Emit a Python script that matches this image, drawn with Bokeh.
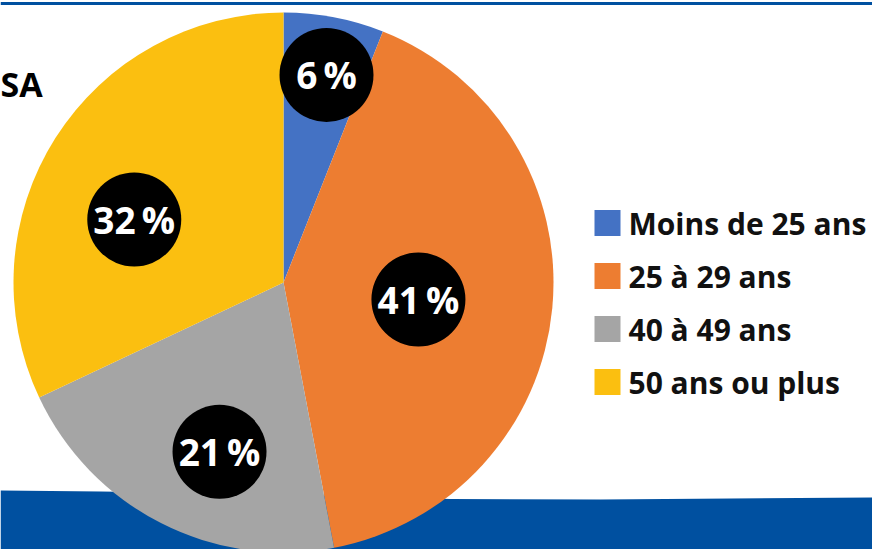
import math
from bokeh.plotting import figure
from bokeh.models import ColumnDataSource, Range1d
from bokeh.core.properties import value
from bokeh.embed import file_html
from bokeh.resources import INLINE

# ---- data ----
categories = ["Moins de 25 ans", "25 à 29 ans", "40 à 49 ans", "50 ans ou plus"]
shares = [6, 41, 21, 32]
label_texts = ["6\u2009%", "41\u2009%", "21\u2009%", "32\u2009%"]
colors = ["#4472C4", "#ED7D31", "#A5A5A5", "#FBBF10"]

# ---- layout (pixels, y measured from top) ----
W, H = 872, 549
CX, CY, R = 283, 282, 270
label_r = [212, 136, 181, 162]          # distance of label bubbles from centre
label_shift = [0.9, 1.8, -6.3, -9.5]    # angular offset (deg) of bubbles from slice middle
BUBBLE_R = 47
BLUE = "#0050A0"
FONT = "Open Sans"


def Y(py):
    return H - py


p = figure(width=W, height=H, x_range=Range1d(0, W), y_range=Range1d(0, H),
           output_backend="svg", toolbar_location=None, min_border=0)
p.axis.visible = False
p.grid.visible = False
p.outline_line_color = None
p.background_fill_color = "white"
p.border_fill_color = "white"

# decorative band at bottom and line at top
wave_x = [0, 100, 200, 300, 450, 600, 872, 872, 0]
wave_y = [Y(v) for v in [490, 491, 492.5, 494, 498.5, 499, 497, 560, 560]]
p.patch(wave_x, wave_y, fill_color=BLUE, line_color=None)
p.quad(left=0, right=W, bottom=Y(4.5), top=Y(1.5), fill_color=BLUE, line_color=None)

# title fragment
p.text(x=[0], y=[Y(83)], text=["SA"], text_font=value(FONT), text_font_style="bold",
       text_font_size="34px", text_align="left", text_baseline="middle", text_color="black")

# pie
total = float(sum(shares))
starts, ends, mids = [], [], []
acc = 0.0
for s in shares:
    a0 = math.pi / 2 - 2 * math.pi * acc / total
    acc += s
    a1 = math.pi / 2 - 2 * math.pi * acc / total
    starts.append(a0)
    ends.append(a1)
    mids.append((a0 + a1) / 2)

src = ColumnDataSource(dict(start=starts, end=ends, color=colors, cat=categories))
p.wedge(x=CX, y=Y(CY), radius=R, start_angle="start", end_angle="end",
        direction="clock", fill_color="color", line_color=None, source=src)

lx, ly = [], []
for m, r, sh in zip(mids, label_r, label_shift):
    a = m - math.radians(sh)
    lx.append(CX + r * math.cos(a))
    ly.append(Y(CY) + r * math.sin(a))
lsrc = ColumnDataSource(dict(x=lx, y=ly, t=label_texts))
p.circle(x="x", y="y", radius=BUBBLE_R, fill_color="black", line_color=None, source=lsrc)
p.text(x="x", y="y", text="t", text_font=value(FONT), text_font_style="bold",
       text_font_size="37px", text_color="white", text_align="center",
       text_baseline="middle", source=lsrc)

# legend
LEG_X, LEG_Y0, LEG_DY, SQ = 607, 222.5, 53, 26
leg_y = [Y(LEG_Y0 + i * LEG_DY) for i in range(len(categories))]
legsrc = ColumnDataSource(dict(y=leg_y, color=colors, cat=categories,
                               x=[LEG_X] * len(categories), tx=[LEG_X + 21] * len(categories)))
p.rect(x="x", y="y", width=SQ, height=SQ, fill_color="color", line_color=None, source=legsrc)
p.text(x="tx", y="y", text="cat", text_font=value(FONT), text_font_style="bold",
       text_font_size="30px", text_color="#111111", text_align="left",
       text_baseline="middle", source=legsrc)

open("out.html", "w").write(file_html(p, INLINE))
